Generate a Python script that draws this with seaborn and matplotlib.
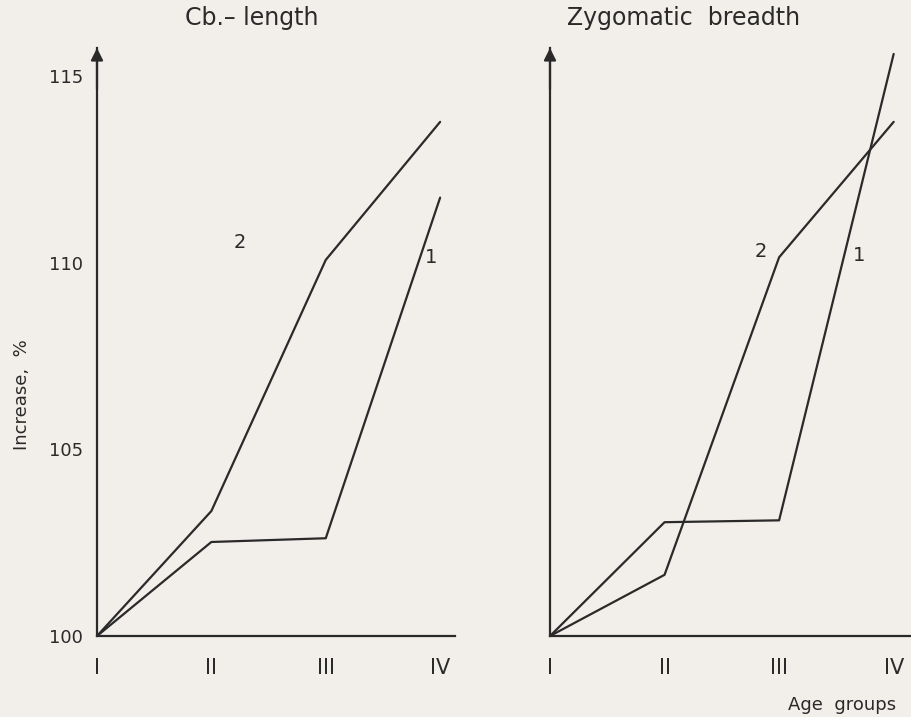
import matplotlib
matplotlib.use("Agg")
import matplotlib.pyplot as plt
import seaborn as sns
import pandas as pd

groups = ["I", "II", "III", "IV"]
cb_line1 = [100, 102.52, 102.62, 111.75]
cb_line2 = [100, 103.35, 110.08, 113.78]
zy_line1 = [100, 103.05, 103.10, 115.60]
zy_line2 = [100, 101.64, 110.15, 113.78]
y_ticks = [100, 105, 110, 115]
y_ticklabels = ["100", "105", "110", "115"]

sns.set_theme(style="white")
plt.rcParams["font.family"] = ["DejaVu Sans"]

bg = "#f2eeea"
ink = "#2a2a2a"

fig = plt.figure(figsize=(9.12, 7.17), dpi=100, facecolor=bg)
ax1 = fig.add_axes([97/912, 81/717, 358/912, 588/717])
ax2 = fig.add_axes([550/912, 81/717, 362/912, 588/717])

panels = [
    (ax1, "Cb.\u2013 length", cb_line1, cb_line2, True, 3.13),
    (ax2, "Zygomatic  breadth", zy_line1, zy_line2, False, 3.16),
]

for ax, title, l1, l2, show_ylab, xmax in panels:
    ax.set_facecolor(bg)
    df = pd.DataFrame({
        "x": list(range(len(groups))) * 2,
        "y": l1 + l2,
        "line": ["1"] * len(groups) + ["2"] * len(groups),
    })
    sns.lineplot(data=df, x="x", y="y", units="line", estimator=None,
                 color=ink, linewidth=1.6, ax=ax, legend=False)
    ax.set_xlim(0, xmax)
    ax.set_ylim(100, 115.76)
    ax.set_xticks(range(len(groups)))
    ax.set_xticklabels(groups, fontsize=15, color=ink)
    ax.set_yticks(y_ticks)
    if show_ylab:
        ax.set_yticklabels(y_ticklabels, fontsize=13, color=ink)
    else:
        ax.set_yticklabels([])
    ax.tick_params(axis="x", direction="in", length=9, width=1.4, colors=ink, pad=16)
    ax.tick_params(axis="y", direction="out", length=6, width=1.4, colors=ink, pad=4)
    ax.tick_params(axis="y", labelcolor=ink)
    for s in ["top", "right"]:
        ax.spines[s].set_visible(False)
    for s in ["left", "bottom"]:
        ax.spines[s].set_color(ink)
        ax.spines[s].set_linewidth(1.6)
    ax.set_xlabel("")
    ax.set_ylabel("")
    ax.annotate("", xy=(0, 1.0), xytext=(0, 0.93), xycoords="axes fraction",
                arrowprops=dict(arrowstyle="-|>", color=ink, lw=1.6,
                                mutation_scale=18, shrinkA=0, shrinkB=0),
                annotation_clip=False)

ax1.text(1.25, 110.3, "2", fontsize=14, color=ink, ha="center", va="bottom")
ax1.text(2.92, 109.9, "1", fontsize=14, color=ink, ha="center", va="bottom")
ax2.text(1.84, 110.05, "2", fontsize=14, color=ink, ha="center", va="bottom")
ax2.text(2.70, 109.95, "1", fontsize=14, color=ink, ha="center", va="bottom")

fig.text(252/912, 1 - 18/717, "Cb.\u2013 length", fontsize=17, color=ink,
         ha="center", va="center")
fig.text(684/912, 1 - 18/717, "Zygomatic  breadth", fontsize=17, color=ink,
         ha="center", va="center")
fig.text(22/912, 1 - 395/717, "Increase,  %", fontsize=13, color=ink,
         rotation=90, ha="center", va="center")
fig.text(842/912, 1 - 705/717, "Age  groups", fontsize=13, color=ink,
         ha="center", va="center")

fig.savefig("out.png", dpi=100, facecolor=bg)
